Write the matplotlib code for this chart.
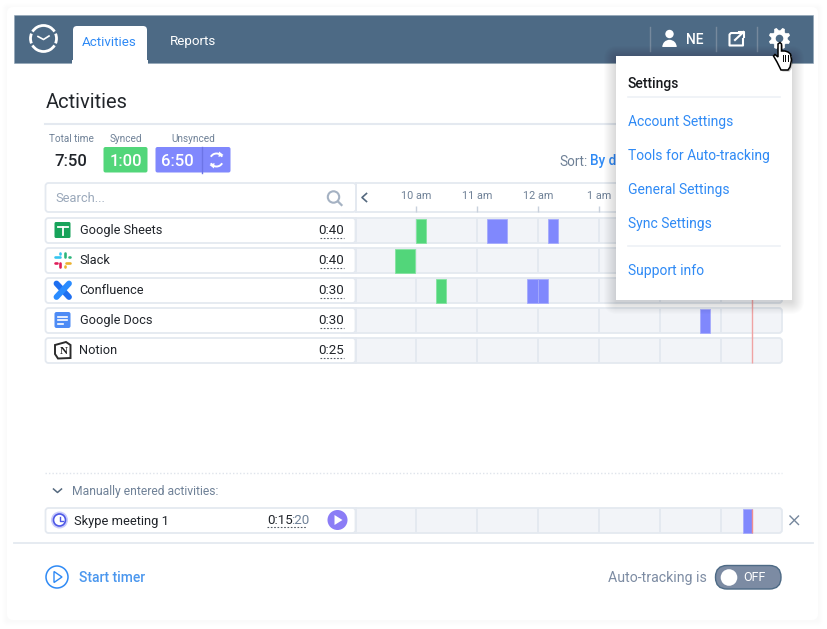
import numpy as np
import matplotlib
matplotlib.use("Agg")
import matplotlib.pyplot as plt
from matplotlib.patches import FancyBboxPatch, Circle, Rectangle, Polygon, Arc, Wedge

plt.rcParams['font.family'] = ['Roboto', 'DejaVu Sans']

# ======================
# DATA
# ======================
W, H = 827, 629

activities = ["Google Sheets", "Slack", "Confluence", "Google Docs", "Notion"]
durations = ["0:40", "0:40", "0:30", "0:30", "0:25"]

hour_ticks = [10, 11, 12, 13, 14, 15]
hour_labels = ["10 am", "11 am", "12 am", "1 am", "", ""]
now_hour = 15.51

# (row, start hour, length in hours)
synced_row = [0, 1, 2]
synced_start = [10.0, 9.66, 10.33]
synced_len = [0.16, 0.33, 0.16]

unsynced_row = [0, 0, 2, 2, 3]
unsynced_start = [11.16, 12.17, 11.83, 12.0, 14.67]
unsynced_len = [0.33, 0.16, 0.17, 0.17, 0.16]

manual_start = [15.36]
manual_len = [0.15]

menu_items = ["Account Settings", "Tools for Auto-tracking", "General Settings", "Sync Settings"]
menu_y = [120, 154, 188, 222]

# ======================
# COLOURS
# ======================
HEADER = "#4d6a85"
BLUE = "#2f8af5"
GREEN = "#52d67a"
PURPLE = "#8088fd"
BAND = "#f2f4f8"
EDGE = "#e4e9f0"
DARK = "#20242a"
GREY = "#6f8197"
RED = "#f0a3a3"


def rbox(ax, x0, y0, x1, y1, r=3, fc="white", ec="none", lw=0, z=2, alpha=None):
    p = FancyBboxPatch((x0 + r, y0 + r), x1 - x0 - 2 * r, y1 - y0 - 2 * r,
                       boxstyle=f"round,pad={r},rounding_size={r}",
                       fc=fc, ec=ec, lw=lw, zorder=z, alpha=alpha)
    ax.add_patch(p)
    return p


def shadow(ax, x0, y0, x1, y1, size=10, strength=0.012, dy=2, z=1):
    for s in range(size, 0, -1):
        rbox(ax, x0 - s, y0 - s + dy, x1 + s, y1 + s + dy, r=s + 1, fc="black", z=z, alpha=strength)


def txt(ax, x, y, s, size=9.5, color=DARK, ha="left", weight="normal", z=6):
    # +2 because roboto sits a bit high with va=center
    return ax.text(x, y + 2, s, fontsize=size, color=color, ha=ha, va="center", fontweight=weight, zorder=z)


fig = plt.figure(figsize=(W / 100, H / 100), dpi=100, facecolor="white")


def px_axes(x0, y0, x1, y1, z):
    a = fig.add_axes([x0 / W, 1 - y1 / H, (x1 - x0) / W, (y1 - y0) / H], zorder=z)
    return a


# ======================
# BACKGROUND LAYER (pixel coordinates)
# ======================
bg = px_axes(0, 0, W, H, 0)
bg.set_xlim(0, W)
bg.set_ylim(H, 0)
bg.axis("off")

shadow(bg, 7, 7, 818, 620, size=5, strength=0.005, dy=1)
rbox(bg, 7, 7, 818, 620, r=6, z=1.5)

bg.add_patch(Rectangle((14, 15), 799, 47.5, fc=HEADER, ec="#8fa3b5", lw=0.4, zorder=2))
rbox(bg, 73, 26, 147, 75, r=4, z=3)
bg.add_patch(Rectangle((72, 60), 76, 16, fc="white", ec="none", zorder=3.1))
txt(bg, 109.5, 40, "Activities", 9.6, BLUE, "center")
txt(bg, 193, 40, "Reports", 9.6, "white", "center")

# clock logo
for a0, a1 in [(32, 148), (158, 202), (212, 328), (338, 382)]:
    bg.add_patch(Arc((43.5, 38.5), 26, 26, theta1=a0, theta2=a1, color="white", lw=2, zorder=4))
bg.plot([38, 43.5, 49], [36.5, 39.5, 36], color="white", lw=1.2, zorder=4)

# header right side
for x in [650, 716, 757]:
    bg.plot([x, x], [27, 51], color="#76899d", lw=1, zorder=3)
bg.add_patch(Circle((669.5, 34), 4.2, fc="white", zorder=4))
bg.add_patch(Wedge((669.5, 47), 7.2, 180, 360, fc="white", zorder=4))
txt(bg, 695, 37.5, "NE", 10, "white", "center", "medium")
bg.plot([741, 731, 729.5, 729.5, 743, 743], [33, 33, 34.5, 45.5, 45.5, 39], color="white", lw=1.5, zorder=4)
bg.plot([735, 743.5], [40, 32], color="white", lw=1.5, zorder=4)
bg.plot([738.5, 744, 744], [32, 32, 37], color="white", lw=1.5, zorder=4)

# page heading
txt(bg, 45.5, 100, "Activities", 14.5, "#22262b")
bg.plot([45, 615], [124, 124], color=EDGE, lw=1.5, zorder=2)

txt(bg, 71, 137, "Total time", 7.2, GREY, "center")
txt(bg, 125.5, 137, "Synced", 7.2, GREY, "center")
txt(bg, 193, 137, "Unsynced", 7.2, GREY, "center")
txt(bg, 70.5, 159, "7:50", 12, DARK, "center", "medium")
rbox(bg, 103.5, 147, 147.5, 172.5, r=2, fc=GREEN)
txt(bg, 125.5, 159, "1:00", 12, "white", "center", "medium")
rbox(bg, 155.5, 147, 230.5, 172.5, r=2, fc=PURPLE)
bg.plot([202, 202], [147, 172.5], color="#6c74e6", lw=1, zorder=3)
txt(bg, 177.5, 159, "6:50", 12, "white", "center", "medium")
bg.add_patch(Arc((216.5, 160), 13, 13, theta1=210, theta2=330, color="white", lw=1.4, zorder=4))
bg.add_patch(Arc((216.5, 160), 13, 13, theta1=30, theta2=150, color="white", lw=1.4, zorder=4))
bg.add_patch(Polygon([[219, 151.5], [223.5, 155], [218.5, 157]], fc="white", zorder=4))
bg.add_patch(Polygon([[214, 168.5], [209.5, 165], [214.5, 163]], fc="white", zorder=4))

txt(bg, 559.5, 159.5, "Sort:", 9.8, GREY)
txt(bg, 590.5, 159.5, "By d", 9.8, BLUE, weight="medium")

# search box and hours header
rbox(bg, 45.5, 183, 356, 212, r=3, ec=EDGE, lw=1.3)
txt(bg, 55.5, 196, "Search...", 9.3, "#9aa8ba")
bg.add_patch(Circle((333.5, 197), 5.7, fc="none", ec="#a5b2c3", lw=1.5, zorder=4))
bg.plot([338, 341.5], [201.5, 205], color="#a5b2c3", lw=1.6, zorder=4)
bg.plot([356, 356], [183, 212], color=EDGE, lw=1.3, zorder=3)
bg.plot([356, 782], [183, 183], color=EDGE, lw=1.3, zorder=2)
bg.plot([356, 782], [212, 212], color=EDGE, lw=1.3, zorder=2)
bg.plot([366.5, 362, 366.5], [193.5, 197.5, 201.5], color="#55697f", lw=1.2, zorder=4)

# activity rows, left part and band behind the timeline
for i, (name, dur) in enumerate(zip(activities, durations)):
    y0 = 218 + 30 * i
    rbox(bg, 340, y0, 782, y0 + 25, r=3, fc=BAND, ec=EDGE, lw=1.3, z=1.8)
    rbox(bg, 45.5, y0, 355.5, y0 + 25, r=3, ec=EDGE, lw=1.3)
    bg.plot([355.5, 355.5], [y0, y0 + 25], color=EDGE, lw=1.3, zorder=3)
    txt(bg, 79.5, y0 + 10.5, name, 9.2, DARK)
    txt(bg, 331.5, y0 + 11, dur, 9.6, DARK, "center")
    bg.plot([320, 343.5], [y0 + 19.5, y0 + 19.5], color="#555c66", lw=0.8, ls=(0, (1.5, 1.5)), zorder=4)

# Google Sheets icon
rbox(bg, 54.5, 222, 70.5, 238, r=1.5, fc="#17a35a", z=4)
bg.plot([57.5, 67.5], [226.5, 226.5], color="white", lw=1.3, zorder=5)
bg.plot([62.5, 62.5], [226.5, 235], color="white", lw=1.3, zorder=5)

# Slack icon
for pts, col in [(([55, 60], [256.5, 256.5]), "#36c5f0"), (([65, 65], [253, 257]), "#2eb67d"),
                 (([66, 70], [263, 263]), "#ecb22e"), (([60, 60], [263, 267]), "#e01e5a"),
                 (([60, 60], [253, 254]), "#36c5f0"), (([69, 69.5], [256.5, 256.5]), "#2eb67d"),
                 (([65, 65], [266, 267]), "#ecb22e"), (([55, 57], [263, 263]), "#e01e5a")]:
    bg.plot(pts[0], pts[1], color=col, lw=1.9, solid_capstyle="round", zorder=5)

# Confluence icon
bg.plot([56.5, 69], [283.5, 297], color="#1f6ff0", lw=4.2, solid_capstyle="round", zorder=5)
bg.plot([56.5, 69], [297, 283.5], color="#2a8cff", lw=4.2, solid_capstyle="round", zorder=5)

# Google Docs icon
rbox(bg, 54.5, 312, 70.5, 328, r=2, fc="#4d8bf5", z=4)
for yy, xe in [(316.5, 67), (320, 67), (323.5, 63)]:
    bg.plot([57.5, xe], [yy, yy], color="white", lw=1.2, zorder=5)

# Notion icon
bg.add_patch(Polygon([[55, 345], [66, 342], [70.5, 345], [70.5, 358], [58, 358.5], [55, 354]],
                     fc="white", ec="#2c2c2c", lw=1.4, zorder=4))
bg.text(63.5, 351.5, "N", fontsize=8, family="Liberation Serif", fontweight="bold", ha="center", va="center", color="#1c1c1c", zorder=5)

# manual section
bg.plot([45, 782], [473, 473], color="#dfe4eb", lw=1, ls=(0, (1, 1.5)), zorder=2)
bg.plot([53.5, 57.5, 61.5], [489, 492.5, 489], color="#55697f", lw=1.1, zorder=3)
txt(bg, 72.5, 489, "Manually entered activities:", 8.7, GREY)
rbox(bg, 340, 508, 782, 533, r=3, fc=BAND, ec=EDGE, lw=1.3, z=1.8)
rbox(bg, 45.5, 508, 355.5, 533, r=3, ec=EDGE, lw=1.3)
bg.plot([355.5, 355.5], [508, 533], color=EDGE, lw=1.3, zorder=3)
bg.add_patch(Circle((59.5, 520), 8.5, fc="#c9ccfb", zorder=4))
bg.add_patch(Circle((59.5, 520), 6, fc="white", ec="#4e58e6", lw=1.2, zorder=5))
bg.plot([59.5, 59.5, 63], [516.5, 520.5, 520.5], color="#4e58e6", lw=1, zorder=6)
txt(bg, 74.5, 519, "Skype meeting 1", 9.3, DARK)
txt(bg, 267, 519, "0:15", 9.6, DARK)
txt(bg, 291, 519, ":20", 9.6, GREY)
bg.plot([267, 307], [527, 527], color="#555c66", lw=0.8, ls=(0, (1.5, 1.5)), zorder=4)
bg.add_patch(Circle((337.5, 520), 10, fc="#8b7cf6", zorder=4))
bg.add_patch(Polygon([[334.5, 515], [334.5, 525], [342.5, 520]], fc="white", zorder=5))
bg.plot([790, 798.5], [516, 524.5], color="#75879c", lw=1, zorder=3)
bg.plot([790, 798.5], [524.5, 516], color="#75879c", lw=1, zorder=3)

bg.plot([14, 813], [543, 543], color=EDGE, lw=1.3, zorder=2)

# footer
bg.add_patch(Circle((57, 577), 11, fc="none", ec=BLUE, lw=1.1, zorder=3))
bg.add_patch(Polygon([[54, 571.5], [54, 582.5], [62, 577]], fc="none", ec=BLUE, lw=1, zorder=3))
txt(bg, 79, 576, "Start timer", 10, "#4b97ee", weight="medium")
txt(bg, 707, 576, "Auto-tracking is", 10.2, "#7d8ca3", "right")
rbox(bg, 715.5, 565.5, 781, 589, r=11.5, fc="#7c8ba3", ec="#4d6a85", lw=1, z=3)
bg.add_patch(Circle((729, 577.5), 8.3, fc="white", zorder=4))
txt(bg, 754, 575.5, "OFF", 9, "white", "center")

# ======================
# TIMELINE (hours on x, rows on y), one row is 30 px
# ======================
tl = px_axes(355, 215.5, 781.5, 365.5, 1)
tl.set_xlim(9, 16)
tl.set_ylim(4.5, -0.5)
tl.axis("off")

for i in range(len(activities)):
    tl.vlines(hour_ticks, i - 0.41, i + 0.41, color=EDGE, lw=1.4, zorder=2)
tl.barh(synced_row, synced_len, left=synced_start, height=0.8, color=GREEN, edgecolor="#84e3a0", linewidth=0.6, zorder=3)
tl.barh(unsynced_row, unsynced_len, left=unsynced_start, height=0.8, color=PURPLE, edgecolor="#a6abfd", linewidth=0.6, zorder=3)
tl.vlines(now_hour, 1.5, 4.4, color=RED, lw=1, zorder=4)

mn = px_axes(355, 505.5, 781.5, 535.5, 1)
mn.set_xlim(9, 16)
mn.set_ylim(0.5, -0.5)
mn.axis("off")
mn.vlines(hour_ticks, -0.41, 0.41, color=EDGE, lw=1.4, zorder=2)
mn.barh(0, manual_len, left=manual_start, height=0.8, color=PURPLE, edgecolor="#a6abfd", linewidth=0.6, zorder=3)
mn.vlines(now_hour, -0.4, 0.4, color="#ee8d93", lw=1, zorder=4)

# hour labels above the rows
hr = px_axes(355, 183, 781.5, 212, 1)
hr.set_xlim(9, 16)
hr.set_ylim(0, 1)
hr.patch.set_alpha(0)
for s in hr.spines.values():
    s.set_visible(False)
hr.set_yticks([])
hr.set_xticks(hour_ticks)
hr.set_xticklabels(hour_labels, fontsize=7.8, color=GREY)
hr.tick_params(axis="x", direction="in", length=4, width=1, color="#c8d1dc", pad=-15)

# ======================
# SETTINGS MENU (on top of everything)
# ======================
top = px_axes(0, 0, W, H, 5)
top.set_xlim(0, W)
top.set_ylim(H, 0)
top.axis("off")

shadow(top, 616, 56, 792, 300, size=12, strength=0.012, dy=2)
top.add_patch(Rectangle((616, 56), 176, 244, fc="white", ec="none", zorder=2))
txt(top, 628, 82, "Settings", 10, "#16181c", weight="medium")
top.plot([628, 780], [97, 97], color="#eef1f6", lw=1.2, zorder=3)
for label, y in zip(menu_items, menu_y):
    txt(top, 628, y, label, 10, BLUE)
top.plot([628, 780], [246, 246], color="#eef1f6", lw=1.2, zorder=3)
txt(top, 628, 269, "Support info", 10, BLUE)

# gear
teeth_r = np.array([10.5, 10.5, 7.8, 7.8] * 8)
angles = np.deg2rad(np.arange(32) * 11.25 - 5.6 + 22.5)
top.add_patch(Polygon(np.c_[779.5 + teeth_r * np.cos(angles), 38.5 + teeth_r * np.sin(angles)],
                      fc="white", ec="white", lw=0.5, zorder=6))
top.add_patch(Circle((779.5, 38.5), 3.8, fc=HEADER, zorder=7))

# hand cursor
hand = [[778, 44], [780, 42.5], [781.5, 44], [781.5, 51], [785, 51], [788, 52], [790.5, 54],
        [791.5, 60], [790, 67], [788, 70], [781, 70], [777, 62], [773.5, 56], [775, 54.5], [778, 57]]
top.add_patch(Polygon([[p[0] + 1.5, p[1] + 1.5] for p in hand], fc="black", alpha=0.25, zorder=7))
top.add_patch(Polygon(hand, fc="white", ec="black", lw=1.1, zorder=8))
for x in [782.5, 785, 787.5]:
    top.plot([x, x], [55, 61], color="black", lw=0.7, zorder=9)

fig.savefig("out.png", dpi=100)
